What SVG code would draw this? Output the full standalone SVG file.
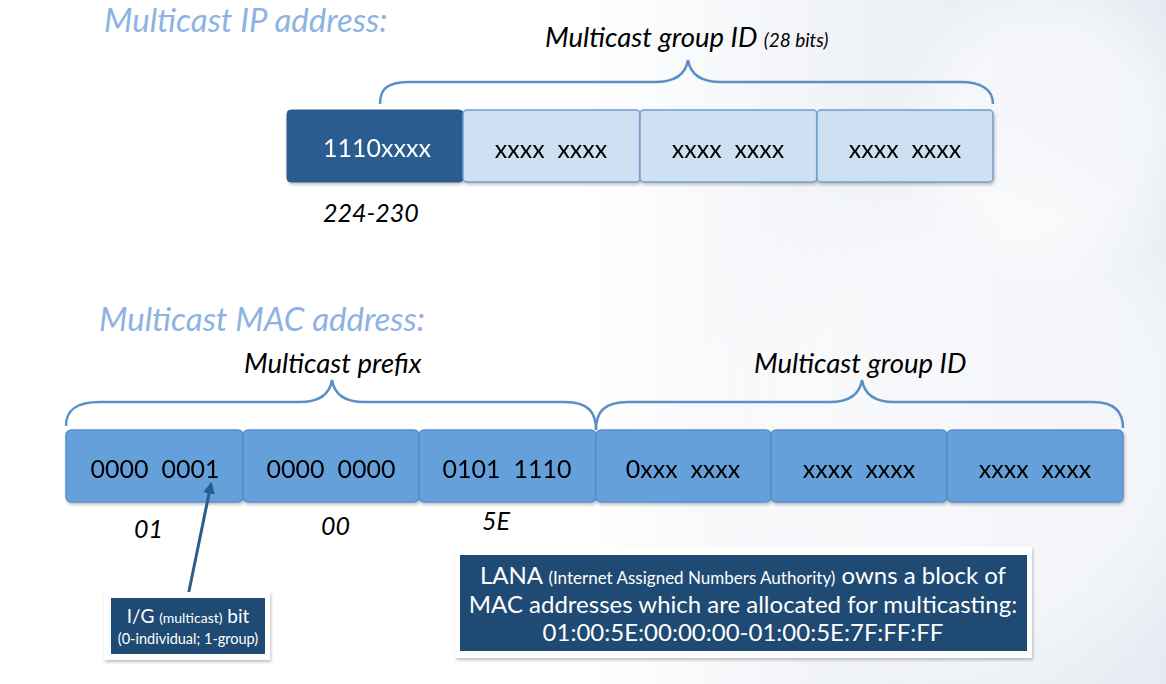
<svg xmlns="http://www.w3.org/2000/svg" width="1166" height="684" viewBox="0 0 1166 684" xml:space="preserve">
<defs>
<linearGradient id="bg" x1="0" y1="0" x2="1" y2="0">
<stop offset="0.5" stop-color="#ffffff"/>
<stop offset="0.75" stop-color="#eef1f6"/>
<stop offset="1" stop-color="#e6ebf2"/>
</linearGradient>
<radialGradient id="glow" cx="0.5" cy="0.5" r="0.5">
<stop offset="0.6" stop-color="#ffffff" stop-opacity="0.5"/>
<stop offset="1" stop-color="#ffffff" stop-opacity="0"/>
</radialGradient>
<filter id="sh" x="-10%" y="-10%" width="120%" height="130%">
<feDropShadow dx="1" dy="2" stdDeviation="1.5" flood-color="#000" flood-opacity="0.25"/>
</filter>
<marker id="ah" viewBox="0 0 10 10" refX="8" refY="5" markerWidth="4" markerHeight="4" orient="auto">
<path d="M0,0 L10,5 L0,10 z" fill="#2A5D8F"/>
</marker>
</defs>
<style>
text{font-family:Lato,"Open Sans","Liberation Sans",sans-serif;white-space:pre}
.title{font-style:italic;font-size:33px;fill:#8DB3E2}
.lbl{font-style:italic;font-size:27.5px;fill:#000}
.num{font-style:italic;font-size:25px;fill:#000}
.cell{font-size:25px;fill:#000;text-anchor:middle}
.ipd{fill:#2A5D8F;stroke:#2A5D8F}
.ipl{fill:#CFE0F3;stroke:#6F9FD0;stroke-width:1.5}
.mac{fill:#65A0DB;stroke:#5A8FCC;stroke-width:1.5}
.brace{fill:none;stroke:#5B8FC7;stroke-width:2.5}
.frame{fill:#ffffff}
.navy{fill:#1F4A73}
.wt{fill:#ffffff;text-anchor:middle}
</style>
<rect width="1166" height="684" fill="url(#bg)"/>
<circle cx="980" cy="420" r="300" fill="url(#glow)"/>
<circle cx="1050" cy="130" r="160" fill="url(#glow)"/>

<text class="title" x="104" y="32">Multicast IP address:</text>
<text class="title" x="99" y="331">Multicast MAC address:</text>

<g id="ip-brace">
<path class="brace" d="M380,104 C380,88 388,82 410,82 L655,82 C678,82 686,72 688,60 C690,72 698,82 721,82 L960,82 C982,82 993,90 993,104"/>
<text class="lbl" x="545" y="47">Multicast group ID <tspan style="font-size:19px">(28 bits)</tspan></text>
</g>

<g id="ip-oct1" filter="url(#sh)">
<rect class="ipd" x="287" y="110" width="176" height="72" rx="4"/>
<text class="cell" x="377" y="157" style="fill:#fff">1110xxxx</text>
</g>
<g id="ip-oct2" filter="url(#sh)">
<rect class="ipl" x="463" y="110" width="177" height="72" rx="4"/>
<text class="cell" x="551" y="158">xxxx  xxxx</text>
</g>
<g id="ip-oct3" filter="url(#sh)">
<rect class="ipl" x="640" y="110" width="177" height="72" rx="4"/>
<text class="cell" x="728" y="158">xxxx  xxxx</text>
</g>
<g id="ip-oct4" filter="url(#sh)">
<rect class="ipl" x="817" y="110" width="176" height="72" rx="4"/>
<text class="cell" x="905" y="158">xxxx  xxxx</text>
</g>
<text class="num" x="323" y="222">224-230</text>

<g id="prefix-brace">
<path class="brace" d="M66,426 C66,410 76,402 100,402 L300,402 C322,402 330,392 332,380 C334,392 342,402 364,402 L565,402 C588,402 596,412 596,430"/>
<text class="lbl" x="244" y="373">Multicast prefix</text>
</g>
<g id="group-brace">
<path class="brace" d="M596,430 C596,412 604,402 628,402 L830,402 C852,402 860,392 862,380 C864,392 872,402 894,402 L1093,402 C1114,402 1123,412 1123,428"/>
<text class="lbl" x="754" y="373">Multicast group ID</text>
</g>

<g id="mac1" filter="url(#sh)">
<rect class="mac" x="66" y="430" width="177" height="72" rx="5"/>
<text class="cell" x="155" y="478">0000  0001</text>
</g>
<g id="mac2" filter="url(#sh)">
<rect class="mac" x="243" y="430" width="176" height="72" rx="5"/>
<text class="cell" x="331" y="478">0000  0000</text>
</g>
<g id="mac3" filter="url(#sh)">
<rect class="mac" x="419" y="430" width="177" height="72" rx="5"/>
<text class="cell" x="507" y="478">0101  1110</text>
</g>
<g id="mac4" filter="url(#sh)">
<rect class="mac" x="596" y="430" width="175" height="72" rx="5"/>
<text class="cell" x="683" y="478">0xxx  xxxx</text>
</g>
<g id="mac5" filter="url(#sh)">
<rect class="mac" x="771" y="430" width="176" height="72" rx="5"/>
<text class="cell" x="859" y="478">xxxx  xxxx</text>
</g>
<g id="mac6" filter="url(#sh)">
<rect class="mac" x="947" y="430" width="176" height="72" rx="5"/>
<text class="cell" x="1035" y="478">xxxx  xxxx</text>
</g>

<text class="num" x="134" y="538">01</text>
<text class="num" x="321" y="535">00</text>
<text class="num" x="482" y="530">5E</text>

<g id="connectors">
<line x1="188" y1="596" x2="211" y2="484" stroke="#2A5D8F" stroke-width="3" marker-end="url(#ah)"/>
</g>

<g id="ig-note">
<rect class="frame" x="104" y="592" width="166" height="68" filter="url(#sh)"/>
<rect class="navy" x="111" y="598" width="154" height="56"/>
<text class="wt" x="188" y="623" font-size="19">I/G <tspan font-size="14">(multicast)</tspan> bit</text>
<text class="wt" x="188" y="644" font-size="14.5">(0-individual; 1-group)</text>
</g>

<g id="lana-note">
<rect class="frame" x="455" y="547" width="577" height="111" filter="url(#sh)"/>
<rect class="navy" x="460" y="555" width="567" height="96"/>
<text class="wt" x="743" y="584" font-size="24">LANA <tspan font-size="17">(Internet Assigned Numbers Authority)</tspan> owns a block of</text>
<text class="wt" x="743" y="613" font-size="24">MAC addresses which are allocated for multicasting:</text>
<text class="wt" x="743" y="641" font-size="24">01:00:5E:00:00:00-01:00:5E:7F:FF:FF</text>
</g>
</svg>
